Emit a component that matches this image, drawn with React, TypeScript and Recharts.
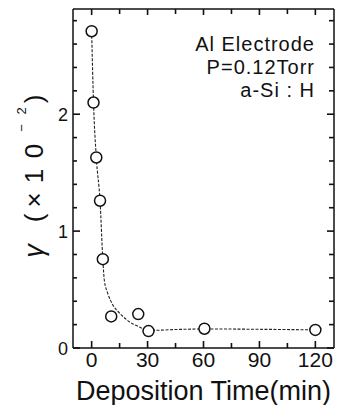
import React from 'react';
import { ComposedChart, Line, Scatter, XAxis, YAxis } from 'recharts';

// measured points: deposition time (min) and gamma (x10^-2)
const pointTimes = [0, 1, 2.5, 4.5, 6, 10.5, 25, 30.5, 60.5, 120];
const pointGamma = [2.71, 2.1, 1.63, 1.26, 0.76, 0.27, 0.29, 0.145, 0.165, 0.155];

// guide curve
const curveTimes = [0, 1, 2.5, 4.5, 6, 6.8, 8.6, 11.3, 14.9, 20.2, 25.6, 30.5, 45, 60.5, 90, 120];
const curveGamma = [2.71, 2.1, 1.63, 1.26, 0.76, 0.58, 0.47, 0.37, 0.3, 0.225, 0.18, 0.15, 0.158, 0.163, 0.16, 0.155];

const xTicks = [0, 15, 30, 45, 60, 75, 90, 105, 120];
const xLabels = [0, 30, 60, 90, 120];
const yTicks = [0, 0.2, 0.4, 0.6, 0.8, 1, 1.2, 1.4, 1.6, 1.8, 2, 2.2, 2.4, 2.6, 2.8];
const yLabels = [0, 1, 2];

const annotation = ['Al Electrode', 'P=0.12Torr', 'a-Si : H'];
const xTitle = 'Deposition Time(min)';

const pointData = pointTimes.map((t, i) => ({ t, g: pointGamma[i] }));
const curveData = curveTimes.map((t, i) => ({ t, g: curveGamma[i] }));

const FONT = '"Liberation Sans", Arial, sans-serif';
const INK = '#111';

const BottomTick = (props: any) => {
  const { x, y, payload } = props;
  const major = xLabels.includes(payload.value);
  const len = major ? 7 : 5;
  return (
    <g>
      <rect x={x - 0.8} y={y - len} width={1.6} height={len} fill={INK} />
      {major && (
        <text x={x} y={y + 19} textAnchor="middle" fontSize={21} fontFamily={FONT} fill={INK}>
          {payload.value}
        </text>
      )}
    </g>
  );
};

const TopTick = (props: any) => {
  const { x, y, payload } = props;
  const len = xLabels.includes(payload.value) ? 6 : 5;
  return <rect x={x - 0.8} y={y} width={1.6} height={len} fill={INK} />;
};

const LeftTick = (props: any) => {
  const { x, y, payload } = props;
  const major = yLabels.includes(payload.value);
  const len = major ? 7 : 4;
  return (
    <g>
      <rect x={x} y={y - 0.8} width={len} height={1.6} fill={INK} />
      {major && (
        <text x={x - 5} y={y + 7} textAnchor="end" fontSize={18} fontFamily={FONT} fill={INK}>
          {payload.value}
        </text>
      )}
    </g>
  );
};

const RightTick = (props: any) => {
  const { x, y, payload } = props;
  const len = yLabels.includes(payload.value) ? 7 : 5;
  return <rect x={x - len} y={y - 0.8} width={len} height={1.6} fill={INK} />;
};

const Circle = (p: any) => (
  <circle cx={p.cx} cy={p.cy} r={5.5} fill="#fff" stroke={INK} strokeWidth={1.5} />
);

// y-axis title drawn as the axis' own label, placed from the axis viewBox
const YTitle = (props: any) => {
  const vb = props.viewBox || { x: 0, y: 0, width: 73, height: 339 };
  const bx = vb.x + 43;
  return (
    <g transform={`translate(${bx},0) rotate(-90)`} fill={INK} fontFamily={FONT} textAnchor="middle">
      <text x={-251} y={0} fontSize={27} fontStyle="italic">γ</text>
      <text x={-218} y={0} fontSize={26}>(</text>
      <text x={-200} y={0} fontSize={26}>×</text>
      <text x={-176} y={0} fontSize={26}>1</text>
      <text x={-151} y={0} fontSize={26}>0</text>
      <text x={-128} y={-17} fontSize={13}>−</text>
      <text x={-111} y={-17} fontSize={13}>2</text>
      <text x={-99} y={0} fontSize={26}>)</text>
    </g>
  );
};

export default function App() {
  return (
    <div style={{ position: 'absolute', left: 0, top: 0, width: 337, height: 405, background: '#fff' }}>
      <ComposedChart width={337} height={405} margin={{ top: 0, right: 0, left: 0, bottom: 0 }}>
        <XAxis xAxisId="bottom" dataKey="t" type="number" domain={[-10, 130]} ticks={xTicks} interval={0}
          allowDataOverflow height={57} tickSize={0} tickMargin={0} tickLine={false}
          axisLine={{ stroke: INK, strokeWidth: 1.5 }} tick={<BottomTick />}
          label={{ value: xTitle, position: 'insideBottom', offset: 5, fontSize: 27, fontFamily: FONT, fill: INK }} />
        <XAxis xAxisId="top" orientation="top" dataKey="t" type="number" domain={[-10, 130]} ticks={xTicks} interval={0}
          allowDataOverflow height={9} tickSize={0} tickMargin={0} tickLine={false}
          axisLine={{ stroke: INK, strokeWidth: 1.5 }} tick={<TopTick />} />
        <YAxis yAxisId="left" dataKey="g" type="number" domain={[0, 2.9]} ticks={yTicks} interval={0}
          allowDataOverflow width={73} tickSize={0} tickMargin={0} tickLine={false}
          axisLine={{ stroke: INK, strokeWidth: 1.5 }} tick={<LeftTick />}
          label={<YTitle />} />
        <YAxis yAxisId="right" orientation="right" dataKey="g" type="number" domain={[0, 2.9]} ticks={yTicks} interval={0}
          allowDataOverflow width={3} tickSize={0} tickMargin={0} tickLine={false}
          axisLine={{ stroke: INK, strokeWidth: 1.5 }} tick={<RightTick />} />
        <Line xAxisId="bottom" yAxisId="left" data={curveData} dataKey="g" type="monotone" dot={false}
          stroke="#222" strokeWidth={1.1} strokeDasharray="3 1.5" isAnimationActive={false} />
        <Scatter xAxisId="bottom" yAxisId="left" data={pointData} dataKey="g" shape={<Circle />} isAnimationActive={false} />
      </ComposedChart>
      <svg width={337} height={405} style={{ position: 'absolute', left: 0, top: 0, pointerEvents: 'none' }}>
        <g fontFamily={FONT} fontSize={20} fill={INK} textAnchor="end" letterSpacing={1}>
          <text x={315} y={51}>{annotation[0]}</text>
          <text x={315} y={74}>{annotation[1]}</text>
          <text x={315} y={97}>{annotation[2]}</text>
        </g>
      </svg>
    </div>
  );
}
